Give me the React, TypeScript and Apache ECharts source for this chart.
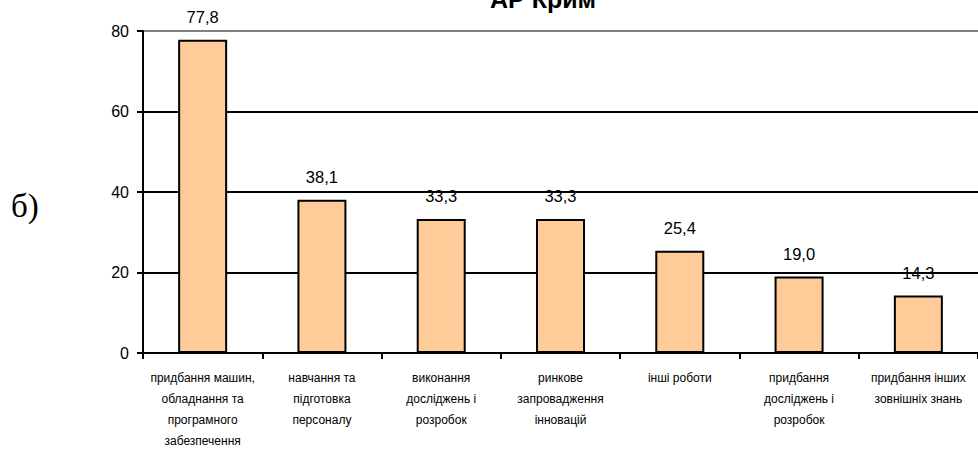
import React, { useEffect, useRef } from "react";
import * as echarts from "echarts";

const categories = [
  "придбання машин,\nобладнання та\nпрограмного\nзабезпечення",
  "навчання та\nпідготовка\nперсоналу",
  "виконання\nдосліджень і\nрозробок",
  "ринкове\nзапровадження\nінновацій",
  "інші роботи",
  "придбання\nдосліджень і\nрозробок",
  "придбання інших\nзовнішніх знань",
];
const values = [77.8, 38.1, 33.3, 33.3, 25.4, 19.0, 14.3];
const yTicks = [0, 20, 40, 60, 80];
const title = "АР Крим";
const panelLabel = "б)";

export default function App() {
  const ref = useRef<HTMLDivElement>(null);
  useEffect(() => {
    if (!ref.current) return;
    const chart = echarts.init(ref.current, null, { renderer: "svg" });
    chart.setOption({
      animation: false,
      backgroundColor: "#ffffff",
      grid: { left: 143, right: -7, top: 31, bottom: 104, containLabel: false },
      graphic: [
        {
          type: "text",
          left: 490,
          top: -14,
          style: {
            text: title,
            font: "bold 25px 'Liberation Sans', Arial, sans-serif",
            fill: "#000",
          },
        },
        {
          type: "text",
          left: 11,
          top: 189,
          style: {
            text: panelLabel,
            font: "33px 'Liberation Serif', 'Times New Roman', serif",
            fill: "#000",
          },
        },
      ],
      xAxis: {
        type: "category",
        data: categories,
        axisLine: { lineStyle: { color: "#000", width: 2 } },
        axisTick: { show: true, length: 6, lineStyle: { color: "#000", width: 2 }, alignWithLabel: false },
        axisLabel: {
          interval: 0,
          margin: 14,
          color: "#000",
          fontSize: 12,
          lineHeight: 21,
          fontFamily: "'Liberation Sans', Arial, sans-serif",
        },
        splitLine: { show: false },
      },
      yAxis: {
        type: "value",
        min: yTicks[0],
        max: yTicks[yTicks.length - 1],
        interval: 20,
        axisLine: { show: true, lineStyle: { color: "#000", width: 2 } },
        axisTick: { show: true, length: 6, lineStyle: { color: "#000", width: 2 } },
        axisLabel: {
          margin: 14,
          color: "#000",
          fontSize: 16,
          fontFamily: "'Liberation Sans', Arial, sans-serif",
        },
        splitLine: {
          show: true,
          lineStyle: { color: ["#000", "#000", "#000", "#000", "#808080"], width: 2 },
        },
      },
      series: [
        {
          type: "bar",
          data: values,
          barWidth: 49,
          itemStyle: { color: "#FFCC99", borderColor: "#000", borderWidth: 2 },
          label: {
            show: true,
            position: "top",
            distance: 14,
            color: "#000",
            fontSize: 16.5,
            fontFamily: "'Liberation Sans', Arial, sans-serif",
            formatter: (p: any) => p.value.toFixed(1).replace(".", ","),
          },
        },
      ],
    });
    return () => chart.dispose();
  }, []);
  return (
    <div
      ref={ref}
      style={{ position: "fixed", left: 0, top: 0, width: 978, height: 457, background: "#fff" }}
    />
  );
}
